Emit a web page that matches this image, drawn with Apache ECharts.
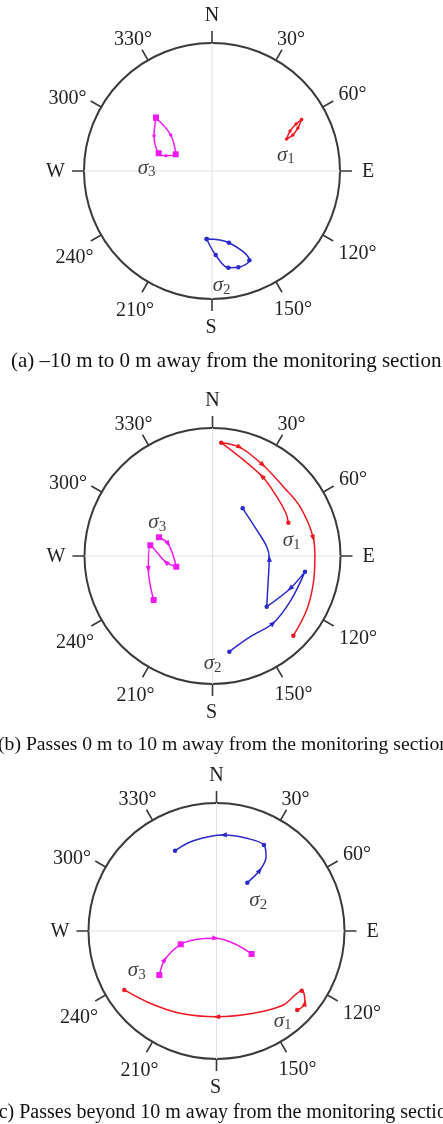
<!DOCTYPE html>
<html><head><meta charset="utf-8">
<script src="https://cdn.jsdelivr.net/npm/echarts@6/dist/echarts.min.js"></script>
<style>html,body{margin:0;padding:0;background:#fff}#c{width:443px;height:1124px}</style>
</head><body><div id="c"></div>
<script>
// ---- tick labels (azimuth, clockwise from North) ----
const tickAngles = [0, 30, 60, 90, 120, 150, 180, 210, 240, 270, 300, 330];
const tickLabels = ['N', '30°', '60°', 'E', '120°', '150°', 'S', '210°', '240°', 'W', '300°', '330°'];
const captions = [
  '(a) \u201310 m to 0 m away from the monitoring section',
  '(b) Passes 0 m to 10 m away from the monitoring section',
  '(c) Passes beyond 10 m away from the monitoring section'
];
const seriesNames = ['\u03c31', '\u03c32', '\u03c33'];

// ---- data: [radius (0..1 of projection), azimuth in degrees] ----
// panel (a)
const a_s1 = [[0.807,60.1],[0.752,60.8],[0.685,62.9],[0.634,66.8],[0.692,66.0],[0.751,63.4],[0.807,60.1]];
const a_s2 = [[0.533,184.5],[0.576,166.7],[0.756,157.3],[0.780,164.7],[0.766,170.4],[0.657,177.5],[0.533,184.5]];
const a_s3 = [[0.604,313.6],[0.530,301.3],[0.439,288.4],[0.379,288.4],[0.312,294.7],[0.428,311.1],[0.604,313.6]];
// panel (b)
const b_s1 = [[0.647,66.3],[0.664,59.8],[0.683,47.3],[0.734,31.6],[0.888,4.4],[0.876,14.2],[0.813,29.0],
              [0.774,45.6],[0.785,60.6],[0.800,80.0],[0.800,90.4],[0.816,105.2],[0.848,119.8],[0.887,134.6]];
const b_s2 = [[0.759,170.0],[0.697,155.2],[0.707,137.8],[0.703,119.3],[0.733,99.6],[0.657,112.9],[0.580,133.1],
              [0.474,113.3],[0.444,92.3],[0.430,80.3],[0.401,59.5],[0.441,32.3]];
const b_s3 = [[0.443,289.3],[0.358,285.2],[0.295,253.5],[0.369,262.7],[0.493,279.8],[0.512,258.3],[0.574,233.2]];
// panel (c)
const c_s1 = [[0.883,134.4],[0.891,129.1],[0.813,125.0],[0.779,137.9],[0.704,155.9],[0.670,179.9],[0.703,203.9],
              [0.767,222.6],[0.855,237.4]];
const c_s2 = [[0.448,32.5],[0.585,35.5],[0.698,33.7],[0.767,28.9],[0.762,18.0],[0.752,4.1],[0.728,345.6],[0.706,332.7]];
const c_s3 = [[0.564,232.4],[0.459,241.2],[0.298,249.6],[0.173,247.5],[0.057,186.3],[0.177,125.1],[0.328,123.2]];
// label anchor positions for sigma1, sigma2, sigma3
const a_lab = [[0.59,77.8],[0.90,175.2],[0.511,272.6]];
const b_lab = [[0.630,79.1],[0.838,179.9],[0.504,301.1]];
const c_lab = [[0.873,143.7],[0.403,54.1],[0.694,243.9]];

// ---- styling ----
// marker codes: o dot, . small dot, s square, > direction arrow, - none
const marks = {
  a: ['.......', 'ooooooo', 's.s.s.s'],
  b: ['o-->o>>-->---o', 'o->-o>o->--o', 's>s>s>s'],
  c: ['o>o-->--o', 'o>-o->-o', 's>s->-s']
};
const colors = ['#f01820', '#2a2acc', '#f01af0'];
const panels = [
  {center: [212, 171], data: [a_s1, a_s2, a_s3], lab: a_lab, mk: marks.a, cap: {top: 346, cx: 221.5, size: 21}},
  {center: [212.5, 556], data: [b_s1, b_s2, b_s3], lab: b_lab, mk: marks.b, cap: {top: 730, cx: 219, size: 19.7}},
  {center: [216.5, 931], data: [c_s1, c_s2, c_s3], lab: c_lab, mk: marks.c, cap: {top: 1098, cx: 219, size: 20}}
];
const R = 128, M = 18;
const serif = 'Liberation Serif';
// fine placement nudges of the angle labels [dx, dy] in px
const nudge = {0:[0,1],30:[-8,5],60:[0,7],90:[4,1],120:[0,0],150:[-11,2],180:[-1,1],
               210:[15,3],240:[8,4],270:[-1,1],300:[1,11],330:[13,5]};

function toXY(p) { const t = p[1] * Math.PI / 180; return [p[0] * Math.sin(t), p[0] * Math.cos(t)]; }
function items(data, mk) {
  return data.map((p, i) => {
    const m = mk[i];
    const it = {value: p};
    if (m === '-') { it.symbol = 'none'; }
    else if (m === '>') {
      const a = toXY(data[Math.max(0, i - 1)]), b = toXY(data[Math.min(data.length - 1, i + 1)]);
      it.symbol = 'triangle'; it.symbolSize = [5, 7];
      it.symbolRotate = Math.atan2(-(b[0] - a[0]), b[1] - a[1]) * 180 / Math.PI;
    }
    else if (m === 's') { it.symbol = 'rect'; it.symbolSize = 6; }
    else if (m === 'o') { it.symbol = 'circle'; it.symbolSize = 4.5; }
    else { it.symbol = 'circle'; it.symbolSize = 3.4; }
    return it;
  });
}
function fmt(v) { const i = tickAngles.indexOf(v); return i < 0 ? '' : '{l' + v + '|' + tickLabels[i] + '}'; }
const labelRich = {};
tickAngles.forEach(a => {
  const t = a * Math.PI / 180, k = (R + M) / R, s = Math.sin(t), c = Math.cos(t);
  const hz = Math.abs(s) * k < 0.3 ? 'center' : (s > 0 ? 'left' : 'right');
  const vt = Math.abs(c) * k < 0.3 ? 'middle' : (c > 0 ? 'bottom' : 'top');
  const [dx, dy] = nudge[a];
  let pt = 0, pr = 0, pb = 0, pl = 0;
  if (hz === 'left') pl = dx; else if (hz === 'right') pr = -dx; else { pl = dx; pr = -dx; }
  if (vt === 'top') pt = dy; else if (vt === 'bottom') pb = -dy; else { pt = dy; pb = -dy; }
  labelRich['l' + a] = {fontFamily: serif, fontSize: 20, color: '#222', padding: [pt, pr, pb, pl]};
});
const meas = document.createElement('canvas').getContext('2d');
function textW(t, size) { meas.font = size + 'px "' + serif + '"'; return meas.measureText(t).width; }

const polar = [], angleAxis = [], radiusAxis = [], series = [], title = [];
panels.forEach((pn, k) => {
  polar.push({center: pn.center, radius: R});
  angleAxis.push({
    polarIndex: k, type: 'value', min: 0, max: 360, interval: 30, startAngle: 90, clockwise: true,
    axisLine: {lineStyle: {color: '#3a3a3a', width: 2}},
    axisTick: {show: true, inside: false, length: 12, lineStyle: {color: '#3a3a3a', width: 1.6}},
    axisLabel: {margin: M, formatter: fmt, fontFamily: serif, fontSize: 20, color: '#222', rich: labelRich},
    splitLine: {show: false}
  });
  radiusAxis.push({polarIndex: k, min: 0, max: 1, axisLine: {show: false}, axisTick: {show: false},
    axisLabel: {show: false}, splitLine: {show: false}});
  [[[1, 0], [1, 180]], [[1, 90], [1, 270]]].forEach(d => series.push({
    type: 'line', coordinateSystem: 'polar', polarIndex: k, data: d, symbol: 'none', silent: true,
    lineStyle: {color: '#e2e2e2', width: 1}, z: 1
  }));
  pn.data.forEach((d, j) => series.push({
    type: 'line', coordinateSystem: 'polar', polarIndex: k, name: seriesNames[j],
    data: items(d, pn.mk[j]), smooth: 0.35, showSymbol: true,
    lineStyle: {color: colors[j], width: 1.5}, itemStyle: {color: colors[j]}, z: 3
  }));
  series.push({
    type: 'scatter', coordinateSystem: 'polar', polarIndex: k, symbolSize: 1,
    itemStyle: {color: 'rgba(0,0,0,0)'}, z: 4,
    data: pn.lab.map((p, j) => ({value: p, name: String(j + 1)})),
    label: {show: true, position: 'inside', formatter: p => '{s|\u03c3}{n|' + p.name + '}',
      rich: {s: {fontFamily: serif, fontStyle: 'italic', fontSize: 21, color: '#111', lineHeight: 24},
             n: {fontFamily: serif, fontSize: 15, color: '#111', verticalAlign: 'bottom', lineHeight: 24}}}
  });
  const w = textW(captions[k], pn.cap.size);
  title.push({text: captions[k], left: Math.round(pn.cap.cx - w / 2), top: pn.cap.top,
    textStyle: {fontFamily: serif, fontSize: pn.cap.size, fontWeight: 'normal', color: '#111'}});
});

const chart = echarts.init(document.getElementById('c'), null, {renderer: 'canvas'});
chart.setOption({animation: false, backgroundColor: '#fff', title, polar, angleAxis, radiusAxis, series});
</script></body></html>
